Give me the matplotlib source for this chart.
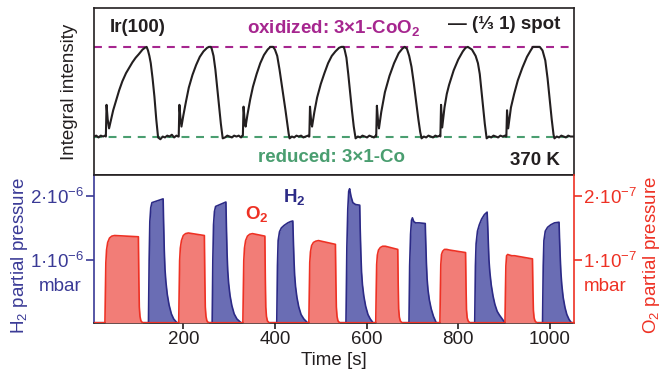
import matplotlib.pyplot as plt

plt.rcParams['font.family'] = ['Liberation Sans', 'DejaVu Sans']
plt.rcParams['mathtext.fontset'] = 'custom'
plt.rcParams['mathtext.rm'] = 'Liberation Sans'
plt.rcParams['mathtext.it'] = 'Liberation Sans:italic'
plt.rcParams['mathtext.bf'] = 'Liberation Sans:bold'

# (1/3 1) spot intensity, normalised: 0 = reduced 3x1-Co, 1 = oxidized 3x1-CoO2
int_t = [5, 10, 15, 20, 25, 29, 31, 32.5, 35, 38, 42, 47, 53, 60, 67, 75, 82, 89, 96, 103, 111, 116, 120,
         123, 126, 129, 133, 137, 141, 145, 150, 155, 160, 165, 170, 175, 180, 185, 189,
         190, 191.5, 194, 196, 200, 206, 212, 220, 228, 236, 244, 252, 256, 260,
         262, 266, 270, 274, 278, 282, 286, 291, 296, 301, 306, 311, 316, 321, 326, 329,
         330, 331.5, 334, 336, 340, 346, 352, 360, 368, 376, 384, 390, 396,
         400, 405, 410, 415, 419, 423, 427, 430, 432, 437, 442, 447, 452, 457, 462, 467, 472, 474,
         475, 476.5, 479, 481, 486, 492, 500, 508, 516, 524, 532, 540, 545, 550,
         552, 556, 560, 564, 568, 572, 576, 581, 586, 591, 596, 601, 606, 611, 616, 620,
         621, 622.5, 625, 627, 632, 640, 650, 660, 670, 678, 683,
         688, 693, 698, 703, 708, 713, 717, 720, 725, 730, 735, 740, 745, 750, 755, 760,
         761, 762.5, 765, 770, 775, 780, 790, 800, 810, 816, 821,
         830, 838, 843, 847, 851, 855, 858, 862, 867, 872, 877, 882, 887, 892, 897, 902, 904,
         905, 906.5, 909, 915, 922, 930, 940, 950, 958, 963, 970, 978,
         984, 990, 995, 1000, 1004, 1008, 1010, 1015, 1020, 1025, 1030, 1035, 1040, 1045, 1052]
int_v = [0.01, 0.02, 0.0, 0.02, 0.01, 0.02, 0.01, 0.36, 0.2, 0.10, 0.19, 0.3, 0.4, 0.52, 0.62, 0.71, 0.77, 0.83, 0.88, 0.92, 0.97, 0.99, 1.0,
         0.96, 0.9, 0.82, 0.65, 0.45, 0.2, 0.0, -0.02, 0.01, 0.0, 0.02, 0.01, 0.03, 0.0, 0.02, 0.01,
         0.01, 0.36, 0.2, 0.12, 0.24, 0.4, 0.55, 0.69, 0.8, 0.89, 0.95, 0.99, 1.0, 1.0,
         0.98, 0.9, 0.75, 0.55, 0.35, 0.15, -0.01, 0.0, 0.02, 0.01, 0.0, 0.02, 0.01, 0.02, 0.0, 0.02,
         0.02, 0.34, 0.18, 0.12, 0.25, 0.42, 0.56, 0.7, 0.82, 0.91, 0.97, 1.0, 1.0,
         0.97, 0.9, 0.75, 0.58, 0.45, 0.3, 0.15, 0.04, -0.01, 0.01, 0.0, 0.02, 0.01, 0.02, 0.0, 0.01, 0.02, 0.01,
         0.01, 0.34, 0.18, 0.12, 0.28, 0.44, 0.59, 0.71, 0.82, 0.9, 0.95, 0.99, 1.0, 1.0,
         0.97, 0.88, 0.7, 0.5, 0.3, 0.12, -0.01, 0.01, 0.0, 0.02, 0.01, 0.0, 0.02, 0.01, 0.0, 0.02,
         0.01, 0.35, 0.18, 0.1, 0.28, 0.5, 0.68, 0.82, 0.93, 0.98, 1.0,
         0.98, 0.9, 0.78, 0.6, 0.4, 0.2, 0.06, -0.01, 0.01, 0.0, 0.02, 0.01, 0.0, 0.02, 0.01, 0.02,
         0.01, 0.36, 0.11, 0.33, 0.48, 0.58, 0.74, 0.86, 0.95, 0.99, 1.0,
         0.97, 0.9, 0.82, 0.7, 0.5, 0.3, 0.15, -0.01, 0.01, 0.0, 0.02, 0.01, 0.0, 0.02, 0.01, 0.02, 0.01,
         0.01, 0.3, 0.1, 0.33, 0.48, 0.63, 0.77, 0.89, 0.96, 1.0, 1.0, 1.0,
         0.96, 0.85, 0.65, 0.4, 0.2, 0.03, -0.01, 0.01, 0.0, 0.02, 0.01, 0.0, 0.02, 0.01, 0.01]

# H2 partial pressure, units of 1e-6 mbar
h2_t = [5, 124, 125.5, 127, 129, 131.5, 156, 157, 158.5, 160, 162, 165, 169, 174, 179, 186,
        263, 264.5, 266, 268, 270.5, 293, 294, 295.5, 297, 299, 302, 306, 311, 317, 326,
        404, 405.5, 407, 410, 414, 420, 428, 434, 439, 440, 441.5, 443, 445, 448, 452, 457, 463, 471,
        555, 557, 559, 561, 563, 566, 570, 576, 585, 586, 587.5, 589, 591, 594, 598, 603, 608, 614,
        692.5, 694, 696, 698, 700, 703, 707, 715, 728, 729, 730.5, 732, 734, 737, 741, 746, 749, 752,
        836, 837.5, 839, 842, 846, 851, 857, 863, 864, 865.5, 867, 869, 872, 876, 880, 885, 890, 895, 902,
        984, 985.5, 987, 990, 995, 1002, 1010, 1020, 1021, 1022.5, 1024, 1026, 1029, 1033, 1037, 1042, 1047, 1052]
h2_p = [0, 0, 1.0, 1.6, 1.82, 1.90, 1.96, 1.6, 1.15, 0.85, 0.65, 0.45, 0.28, 0.14, 0.06, 0,
        0, 1.0, 1.55, 1.76, 1.84, 1.91, 1.55, 1.1, 0.82, 0.62, 0.43, 0.27, 0.14, 0.06, 0,
        0, 0.9, 1.3, 1.44, 1.5, 1.54, 1.58, 1.6, 1.61, 1.35, 1.0, 0.75, 0.57, 0.4, 0.25, 0.13, 0.06, 0,
        0, 1.2, 1.8, 2.08, 2.12, 2.0, 1.9, 1.87, 1.86, 1.5, 1.1, 0.8, 0.6, 0.42, 0.26, 0.13, 0.06, 0,
        0, 0.9, 1.4, 1.62, 1.66, 1.6, 1.58, 1.58, 1.57, 1.3, 0.95, 0.7, 0.52, 0.36, 0.22, 0.1, 0.05, 0,
        0, 0.9, 1.25, 1.45, 1.55, 1.64, 1.71, 1.75, 1.6, 1.3, 1.0, 0.8, 0.6, 0.42, 0.29, 0.18, 0.12, 0.07, 0,
        0, 0.9, 1.3, 1.45, 1.51, 1.55, 1.58, 1.59, 1.35, 1.05, 0.8, 0.6, 0.4, 0.24, 0.13, 0.05, 0, 0]

# O2 partial pressure, units of 1e-7 mbar
o2_t = [5, 29, 30, 31, 32.5, 35, 39, 44, 50, 102, 103, 104, 105.5, 107.5, 111,
        190, 191, 192, 193.5, 196, 200, 205, 211, 246, 247, 248, 249.5, 251.5, 255,
        330, 331, 332, 333.5, 336, 340, 345, 351, 378, 379, 380, 381.5, 383.5, 387,
        474, 475, 476, 477.5, 480, 484, 489, 495, 532, 533, 534, 535.5, 537.5, 541,
        620, 621, 622, 623.5, 626, 630, 635, 641, 668, 669, 670, 671.5, 673.5, 677,
        760, 761, 762, 763.5, 766, 770, 775, 781, 816, 817, 818, 819.5, 821.5, 825,
        902, 903, 904, 905.5, 908, 912, 917, 923, 962, 963, 964, 965.5, 967.5, 971, 1052]
o2_p = [0, 0, 0.5, 0.95, 1.15, 1.27, 1.34, 1.37, 1.38, 1.36, 0.7, 0.25, 0.1, 0.03, 0,
        0, 0.5, 0.98, 1.18, 1.3, 1.38, 1.41, 1.42, 1.38, 0.7, 0.25, 0.1, 0.03, 0,
        0, 0.5, 0.98, 1.18, 1.3, 1.37, 1.4, 1.41, 1.37, 0.7, 0.25, 0.1, 0.03, 0,
        0, 0.5, 0.95, 1.12, 1.22, 1.27, 1.29, 1.30, 1.24, 0.65, 0.25, 0.1, 0.03, 0,
        0, 0.5, 0.92, 1.07, 1.15, 1.19, 1.21, 1.21, 1.16, 0.6, 0.22, 0.09, 0.03, 0,
        0, 0.5, 0.92, 1.08, 1.13, 1.16, 1.16, 1.15, 1.11, 0.57, 0.21, 0.08, 0.03, 0,
        0, 0.5, 0.9, 1.06, 1.08, 1.07, 1.06, 1.06, 1.01, 0.52, 0.2, 0.08, 0.03, 0, 0]

x_ticks = [200, 400, 600, 800, 1000]
h2_ticks = [1, 2]
h2_labels = ['1·10$^{-6}$', '2·10$^{-6}$']
o2_ticks = [1, 2]
o2_labels = ['1·10$^{-7}$', '2·10$^{-7}$']

dark = '#231f20'
purple = '#a6268f'
green = '#4a9e70'
blue = '#3a3a96'
blue_edge = '#2c2a86'
blue_fill = '#6a6db4'
red = '#ee3124'
red_fill = '#f27d77'
fs = 13.5

fig = plt.figure(figsize=(6.71, 3.79), dpi=100)
ax1 = fig.add_axes([0.140, 0.537, 0.715, 0.443])
ax2 = fig.add_axes([0.140, 0.1485, 0.715, 0.3885])
ax3 = ax2.twinx()

# top panel: LEED spot intensity
ax1.axhline(1.0, color=purple, lw=1.5, dashes=(3.8, 3.2), zorder=1)
ax1.axhline(0.0, color=green, lw=1.5, dashes=(3.8, 3.2), zorder=1)
ax1.plot(int_t, int_v, color=dark, lw=1.5, zorder=2)
ax1.set_xlim(5, 1052)
ax1.set_ylim(-0.42, 1.434)
ax1.set_xticks([])
ax1.set_yticks([])
for s in ax1.spines.values():
    s.set_linewidth(1.2)
    s.set_color(dark)
ax1.set_ylabel('Integral intensity', fontsize=fs, color=dark)
ax1.yaxis.set_label_coords(-0.033, 0.5)

ax1.text(0.033, 0.88, 'Ir(100)', transform=ax1.transAxes, fontsize=fs,
         fontweight='bold', color=dark, va='center', ha='left')
ax1.text(0.319, 0.88, r'oxidized: 3×1-CoO$_\mathbf{2}$', transform=ax1.transAxes,
         fontsize=fs, fontweight='bold', color=purple, va='center', ha='left')
ax1.text(0.972, 0.90, '— (⅓ 1) spot', transform=ax1.transAxes, fontsize=fs,
         fontweight='bold', color=dark, va='center', ha='right')
ax1.text(0.342, 0.11, 'reduced: 3×1-Co', transform=ax1.transAxes, fontsize=fs,
         fontweight='bold', color=green, va='center', ha='left')
ax1.text(0.972, 0.092, '370 K', transform=ax1.transAxes, fontsize=fs,
         fontweight='bold', color=dark, va='center', ha='right')

# bottom panel: partial pressures
ax2.fill_between(h2_t, h2_p, 0, color=blue_fill, lw=0)
ax2.plot(h2_t, h2_p, color=blue_edge, lw=1.2)
ax3.fill_between(o2_t, o2_p, 0, color=red_fill, lw=0)
ax3.plot(o2_t, o2_p, color=red, lw=1.2)

ax2.set_xlim(5, 1052)
ax2.set_ylim(0, 2.33)
ax3.set_ylim(0, 2.33)

ax2.set_xticks(x_ticks)
ax2.tick_params(axis='x', length=4, width=1.2, colors=dark, labelsize=fs, pad=2)
ax2.set_yticks(h2_ticks, labels=h2_labels)
ax2.tick_params(axis='y', length=6, width=1.2, colors=blue, labelsize=fs, pad=1)
ax3.set_yticks(o2_ticks, labels=o2_labels)
ax3.tick_params(axis='y', length=6, width=1.2, colors=red, labelsize=fs, pad=1)

for name, s in ax2.spines.items():
    s.set_linewidth(1.2)
    s.set_color(dark)
ax2.spines['left'].set_color(blue)
ax2.spines['right'].set_visible(False)
for name in ['left', 'top', 'bottom']:
    ax3.spines[name].set_visible(False)
ax3.spines['right'].set_color(red)
ax3.spines['right'].set_linewidth(1.2)

ax2.set_xlabel('Time [s]', fontsize=fs, color=dark, labelpad=3)
ax2.set_ylabel('H$_2$ partial pressure', fontsize=fs, color=blue)
ax2.yaxis.set_label_coords(-0.133, 0.46)
ax3.set_ylabel('O$_2$ partial pressure', fontsize=fs, color=red)
ax3.yaxis.set_label_coords(1.141, 0.46)

ax2.text(-0.025, 0.243, 'mbar', transform=ax2.transAxes, fontsize=fs,
         color=blue, ha='right', va='center')
ax3.text(1.02, 0.243, 'mbar', transform=ax3.transAxes, fontsize=fs,
         color=red, ha='left', va='center')
ax3.text(0.34, 0.738, r'O$_\mathbf{2}$', transform=ax3.transAxes, fontsize=fs,
         fontweight='bold', color=red, ha='center', va='center')
ax3.text(0.417, 0.854, r'H$_\mathbf{2}$', transform=ax3.transAxes, fontsize=fs,
         fontweight='bold', color=blue_edge, ha='center', va='center')

fig.savefig('out.png', dpi=100)
